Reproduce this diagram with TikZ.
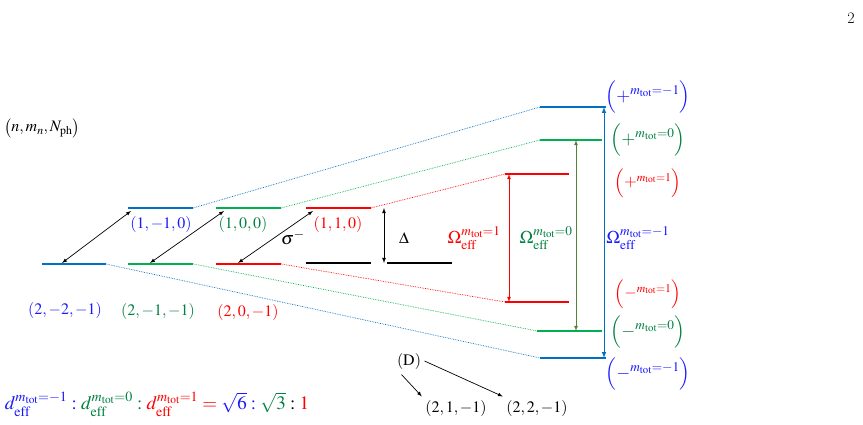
\documentclass[tikz,border=0pt]{standalone}
\usepackage{mathptmx}
\usepackage[no-math]{fontspec}
\definecolor{lvlblue}{RGB}{0,112,192}
\definecolor{txtblue}{RGB}{25,25,255}
\definecolor{lvlgreen}{RGB}{0,176,80}
\definecolor{txtgreen}{RGB}{0,128,64}
\definecolor{arrgreen}{RGB}{84,130,53}
\definecolor{lvlred}{RGB}{255,0,0}
\newcommand{\mtot}{m_{\mathrm{tot}}}
\begin{document}
\begin{tikzpicture}[x=1pt,y=-1pt,
  level/.style={line width=1.1pt},
  link/.style={densely dotted, line width=0.7pt},
  lbl/.style={font=\fontsize{16}{19}\selectfont},
  big/.style={font=\fontsize{18}{22}\selectfont},
  >=latex]
\useasboundingbox (0,0) rectangle (863,425);
\node[font=\fontsize{16}{19}\selectfont] (pg) at (851,18) {2};
\node[lbl] (title) at (42,128) {$\bigl(n,m_n,N_{\mathrm{ph}}\bigr)$};
% left levels
\coordinate (b0L) at (42,264); \coordinate (b0R) at (106,264);
\coordinate (b1L) at (128,208); \coordinate (b1R) at (193,208);
\coordinate (g0L) at (128,264); \coordinate (g0R) at (193,264);
\coordinate (g1L) at (216,208); \coordinate (g1R) at (281,208);
\coordinate (r0L) at (216,264); \coordinate (r0R) at (281,264);
\coordinate (r1L) at (306,208); \coordinate (r1R) at (371,208);
\coordinate (k0L) at (306,263); \coordinate (k0R) at (371,263);
\coordinate (k1L) at (387,263); \coordinate (k1R) at (452,263);
% right levels
\coordinate (bpL) at (540,107); \coordinate (bpR) at (606,107);
\coordinate (gpL) at (540,140); \coordinate (gpR) at (602,140);
\coordinate (rpL) at (505,174); \coordinate (rpR) at (569,174);
\coordinate (rmL) at (505,302); \coordinate (rmR) at (569,302);
\coordinate (gmL) at (537,331); \coordinate (gmR) at (602,331);
\coordinate (bmL) at (540,358); \coordinate (bmR) at (606,358);
\draw[level, lvlblue] (b0L) -- (b0R) (b1L) -- (b1R) (bpL) -- (bpR) (bmL) -- (bmR);
\draw[level, lvlgreen] (g0L) -- (g0R) (g1L) -- (g1R) (gpL) -- (gpR) (gmL) -- (gmR);
\draw[level, lvlred] (r0L) -- (r0R) (r1L) -- (r1R) (rpL) -- (rpR) (rmL) -- (rmR);
\draw[level, black] (k0L) -- (k0R) (k1L) -- (k1R);
% dotted links
\draw[link, lvlblue] (b1R) -- (bpL) (b0R) -- (bmL);
\draw[link, lvlgreen] (g1R) -- (gpL) (g0R) -- (gmL);
\draw[link, lvlred] (r1R) -- (rpL) (r0R) -- (rmL);
% couplings
\coordinate (c1a) at (62,263); \coordinate (c1b) at (131,211);
\coordinate (c2a) at (150,263); \coordinate (c2b) at (224,211);
\coordinate (c3a) at (238,263); \coordinate (c3b) at (313,211);
\draw[<->, line width=0.7pt] (c1a) -- (c1b);
\draw[<->, line width=0.7pt] (c2a) -- (c2b);
\draw[<->, line width=0.7pt] (c3a) -- (c3b);
\node[big] (sig) at (293,238) {$\sigma^-$};
\coordinate (dtop) at (384,208); \coordinate (dbot) at (384,263);
\draw[<->, line width=0.8pt] (dtop) -- (dbot);
\node[lbl] (delta) at (404,238) {$\Delta$};
% Rabi splittings
\coordinate (ra) at (509,174); \coordinate (rb) at (509,302);
\coordinate (ga) at (576,140); \coordinate (gb) at (576,331);
\coordinate (ba) at (604,107); \coordinate (bb) at (604,358);
\draw[<->, lvlred, line width=0.8pt] (ra) -- (rb);
\draw[<->, arrgreen, line width=0.8pt] (ga) -- (gb);
\draw[<->, lvlblue, line width=1pt] (ba) -- (bb);
\node[big, lvlred] (omr) at (474,238) {$\Omega_{\mathrm{eff}}^{\mtot=1}$};
\node[big, txtgreen] (omg) at (546,238) {$\Omega_{\mathrm{eff}}^{\mtot=0}$};
\node[big, txtblue] (omb) at (638,238) {$\Omega_{\mathrm{eff}}^{\mtot={-}1}$};
% state labels
\node[lbl, txtblue] (s1) at (161,225) {$(1,{-}1,0)$};
\node[lbl, txtgreen] (s2) at (243,225) {$(1,0,0)$};
\node[lbl, lvlred] (s3) at (338,225) {$(1,1,0)$};
\node[lbl, txtblue] (s4) at (65,310) {$(2,{-}2,{-}1)$};
\node[lbl, txtgreen] (s5) at (158,311) {$(2,{-}1,{-}1)$};
\node[lbl, lvlred] (s6) at (248,312) {$(2,0,{-}1)$};
\node[big, txtblue] (pb) at (648,97) {$\Bigl(+^{\mtot={-}1}\Bigr)$};
\node[big, txtgreen] (pg0) at (648,140) {$\Bigl(+^{\mtot=0}\Bigr)$};
\node[lbl, lvlred] (pr) at (648,183) {$\Bigl(+^{\mtot=1}\Bigr)$};
\node[lbl, lvlred] (mr) at (648,294) {$\Bigl(-^{\mtot=1}\Bigr)$};
\node[big, txtgreen] (mg) at (648,332) {$\Bigl(-^{\mtot=0}\Bigr)$};
\node[big, txtblue] (mb) at (648,374) {$\Bigl(-^{\mtot={-}1}\Bigr)$};
% dark states
\node[lbl] (dark) at (409,361) {$(\mathrm{D})$};
\node[lbl] (d1) at (456,408) {$(2,1,{-}1)$};
\node[lbl] (d2) at (537,408) {$(2,2,{-}1)$};
\draw[->, line width=0.7pt] (dark.south west) ++(8,2) -- (d1.north west);
\draw[->, line width=0.7pt] (dark.east) -- (d2.north west);
% ratio
\node[font=\fontsize{19}{23}\selectfont] (ratio) at (157,404)
  {$\color{txtblue}d_{\mathrm{eff}}^{\mtot={-}1}:\color{txtgreen}d_{\mathrm{eff}}^{\mtot=0}:\color{lvlred}d_{\mathrm{eff}}^{\mtot=1}=\color{txtblue}\sqrt{6}:\color{txtgreen}\sqrt{3}\color{black}:\color{lvlred}1$};
\end{tikzpicture}
\end{document}
